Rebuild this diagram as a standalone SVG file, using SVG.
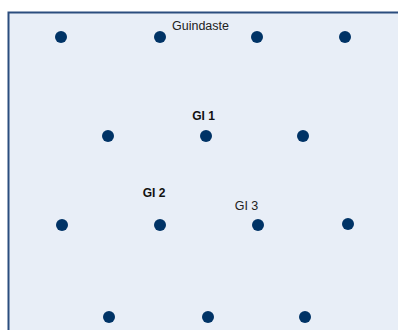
<svg xmlns="http://www.w3.org/2000/svg" width="398" height="330" viewBox="0 0 398 330">
<style>
.pt{fill:#003366}
.t{font-family:"Liberation Sans",Arial,sans-serif;font-size:12.5px;fill:#222;text-anchor:middle}
.b{font-weight:bold;font-size:12px;fill:#111}
</style>
<rect x="0" y="0" width="398" height="330" fill="#ffffff"/>
<rect id="frame" x="8.5" y="12.5" width="400" height="330" fill="#e8eef7" stroke="#2b4d7e" stroke-width="2"/>
<g id="connectors"></g>
<g id="n1"><circle class="pt" cx="61" cy="37" r="6"/></g>
<g id="n2"><circle class="pt" cx="160" cy="37" r="6"/></g>
<g id="n3"><circle class="pt" cx="257" cy="37" r="6"/></g>
<g id="n4"><circle class="pt" cx="345" cy="37" r="6"/></g>
<g id="n5"><circle class="pt" cx="108" cy="136" r="6"/></g>
<g id="n6"><circle class="pt" cx="206" cy="136" r="6"/></g>
<g id="n7"><circle class="pt" cx="303" cy="136" r="6"/></g>
<g id="n8"><circle class="pt" cx="62" cy="225" r="6"/></g>
<g id="n9"><circle class="pt" cx="160" cy="225" r="6"/></g>
<g id="n10"><circle class="pt" cx="258" cy="225" r="6"/></g>
<g id="n11"><circle class="pt" cx="348" cy="224" r="6"/></g>
<g id="n12"><circle class="pt" cx="109" cy="317" r="6"/></g>
<g id="n13"><circle class="pt" cx="208" cy="317" r="6"/></g>
<g id="n14"><circle class="pt" cx="305" cy="317" r="6"/></g>
<g id="labels">
<text class="t" x="200.5" y="30">Guindaste</text>
<text class="t b" x="203.5" y="120">GI 1</text>
<text class="t b" x="154" y="197">GI 2</text>
<text class="t" x="246.5" y="210">GI 3</text>
</g>
</svg>
